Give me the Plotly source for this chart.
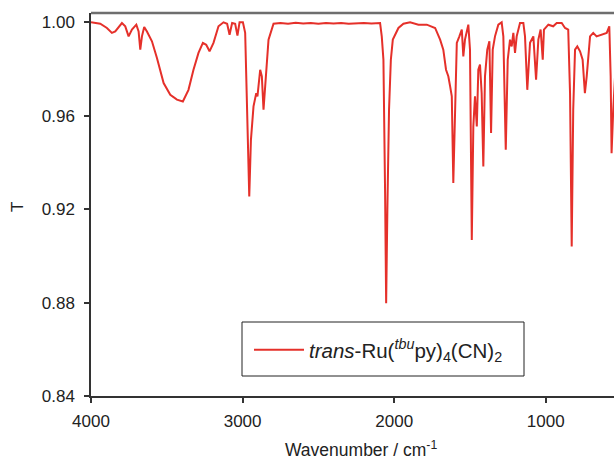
import plotly.graph_objects as go

# IR spectrum (wavenumber / cm^-1, transmittance)
wavenumber = [4000, 3939, 3895, 3862, 3840, 3796, 3774, 3752, 3730, 3701, 3686, 3675, 3664, 3649, 3631,
              3598, 3565, 3521, 3477, 3433, 3394, 3357, 3324, 3291, 3262, 3240, 3218, 3192, 3159, 3126,
              3102, 3086, 3069, 3049, 3034, 3020, 2998, 2983, 2972, 2956, 2945, 2928, 2910, 2902, 2884,
              2873, 2862, 2846, 2829, 2796, 2750, 2700, 2650, 2600, 2550, 2500, 2450, 2400, 2350, 2300,
              2250, 2200, 2150, 2093, 2082, 2071, 2060, 2053, 2045, 2034, 2022, 2009, 1972, 1939, 1895,
              1840, 1785, 1730, 1697, 1676, 1658, 1643, 1631, 1620, 1610, 1598, 1587, 1570, 1554, 1544,
              1533, 1511, 1500, 1488, 1478, 1467, 1455, 1445, 1434, 1423, 1412, 1401, 1386, 1372, 1361,
              1350, 1335, 1313, 1291, 1280, 1264, 1251, 1236, 1225, 1214, 1203, 1192, 1170, 1148, 1137,
              1122, 1104, 1082, 1064, 1049, 1034, 1020, 1012, 983, 951, 928, 895, 873, 852, 840,
              829, 819, 807, 792, 774, 757, 742, 730, 708, 687, 665, 632, 598, 581, 572,
              566, 555, 537]
transmittance = [1.000, 0.9994, 0.9976, 0.9955, 0.9961, 0.9997, 0.9983, 0.9940, 0.9969, 0.9990, 0.9961, 0.9883, 0.9940, 0.9980, 0.9961,
                 0.9919, 0.9847, 0.9740, 0.9690, 0.9669, 0.9661, 0.9711, 0.9797, 0.9869, 0.9912, 0.9904, 0.9876, 0.9912, 0.9983, 1.000,
                 0.9994, 0.9947, 0.9997, 0.9994, 0.9943, 1.000, 1.000, 0.9955, 0.9669, 0.9254, 0.9497, 0.9640, 0.9697, 0.9683, 0.9797,
                 0.9769, 0.9626, 0.9769, 0.9926, 0.9994, 0.9997, 0.9994, 0.9998, 0.9995, 0.9997, 0.9994, 0.9997, 0.9995, 0.9997, 0.9994,
                 0.9996, 0.9997, 0.9995, 0.9997, 0.9940, 0.9840, 0.9270, 0.8797, 0.9197, 0.9626, 0.9840, 0.9926, 0.9976, 0.9994, 1.000,
                 0.9990, 0.9990, 0.9976, 0.9926, 0.9883, 0.9797, 0.9769, 0.9726, 0.9683, 0.9312, 0.9626, 0.9912, 0.9940, 0.9969, 0.9854,
                 0.9926, 0.9990, 0.9883, 0.9068, 0.9554, 0.9683, 0.9554, 0.9797, 0.9819, 0.9697, 0.9383, 0.9769, 0.9883, 0.9919, 0.9526,
                 0.9883, 0.9940, 0.9990, 1.000, 0.9940, 0.9454, 0.9840, 0.9926, 0.9897, 0.9955, 0.9869, 0.9940, 0.9997, 0.9997, 0.9940,
                 0.9711, 0.9912, 0.9940, 0.9754, 0.9926, 0.9969, 0.9840, 0.9969, 0.9990, 0.9983, 0.9997, 0.9997, 0.9976, 0.9969, 0.9697,
                 0.9040, 0.9626, 0.9883, 0.9897, 0.9876, 0.9840, 0.9697, 0.9769, 0.9940, 0.9955, 0.9940, 0.9947, 0.9955, 0.9983, 0.9769,
                 0.9440, 0.9626, 0.9840]

x_ticks = [4000, 3000, 2000, 1000]
y_ticks = [0.84, 0.88, 0.92, 0.96, 1.00]
series_name = "<i>trans</i>-Ru(<sup><i>tbu</i></sup>py)<sub>4</sub>(CN)<sub>2</sub>"

FONT = "Arial, Liberation Sans, sans-serif"
L, R, T, B = 91, 0, 13, 63
W, H = 614, 459
pw, ph = W - L - R, H - T - B

def px(x):
    return (x - L) / pw

def py(y):
    return (H - B - y) / ph

fig = go.Figure()
fig.add_trace(go.Scatter(x=wavenumber, y=transmittance, mode="lines", name=series_name,
                         line=dict(color="#e5302a", width=2)))

fig.update_layout(
    width=W, height=H,
    margin=dict(l=L, r=R, t=T, b=B),
    paper_bgcolor="white", plot_bgcolor="white",
    font=dict(family=FONT, size=17, color="#222"),
    showlegend=True,
    legend=dict(x=px(249), y=py(350), xanchor="left", yanchor="middle",
                bgcolor="rgba(0,0,0,0)", borderwidth=0, itemwidth=50,
                font=dict(family=FONT, size=20.5, color="#222")),
    xaxis=dict(range=[4000, 550], tickvals=x_ticks, ticktext=[str(v) for v in x_ticks],
               showgrid=False, zeroline=False, showline=True, linecolor="#333", linewidth=1.5,
               ticks="outside", ticklen=5, tickcolor="#333", tickwidth=1.5, ticklabelstandoff=4,
               tickfont=dict(family=FONT, size=17, color="#222")),
    yaxis=dict(range=[0.84, 1.004], tickvals=y_ticks, tickformat=".2f",
               showgrid=False, zeroline=False, showline=True, linecolor="#333", linewidth=1.5,
               ticks="outside", ticklen=5, tickcolor="#333", tickwidth=1.5, ticklabelstandoff=6,
               tickfont=dict(family=FONT, size=17, color="#222")),
    shapes=[
        dict(type="line", xref="paper", yref="paper", x0=0, x1=1, y0=1, y1=1,
             line=dict(color="#6e6e6e", width=2.5)),
        dict(type="rect", xref="paper", yref="paper", x0=px(242), x1=px(524), y0=py(376), y1=py(322),
             line=dict(color="#222", width=1)),
    ],
    annotations=[
        dict(text="Wavenumber / cm<sup>-1</sup>", xref="paper", yref="paper", x=px(361), y=py(449),
             xanchor="center", yanchor="middle", showarrow=False,
             font=dict(family=FONT, size=17.5, color="#222")),
        dict(text="T", xref="paper", yref="paper", x=px(17), y=py(207), textangle=-90,
             xanchor="center", yanchor="middle", showarrow=False,
             font=dict(family=FONT, size=17, color="#222")),
    ],
)

fig.write_html("out.html", config={"displayModeBar": False},
               post_script="document.body.style.margin='0';document.body.style.overflow='hidden';")
